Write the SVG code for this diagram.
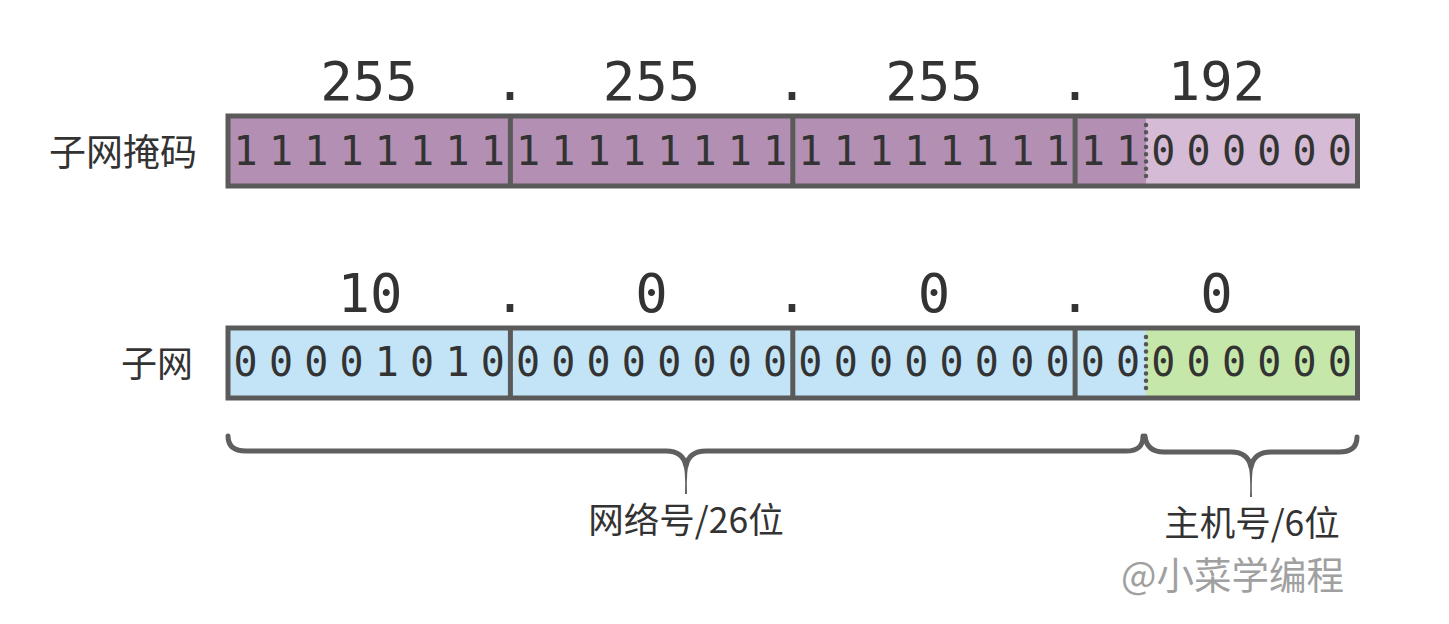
<svg xmlns="http://www.w3.org/2000/svg" width="1449" height="624" viewBox="0 0 1449 624">
<style>
.bits{font-family:"DejaVu Sans Mono",monospace;font-size:40px;fill:#333;text-anchor:middle}
.num{font-family:"DejaVu Sans Mono",monospace;font-size:54px;fill:#333;text-anchor:middle}
.lbl{font-family:"Noto Sans CJK SC","Noto Sans",sans-serif;fill:#333}
.frame{fill:none;stroke:#5a5a5a;stroke-width:5}
.div{stroke:#5a5a5a;stroke-width:5}
.dots{stroke:#555;stroke-width:4.5;stroke-dasharray:0 7.3;stroke-linecap:round}
.brace{fill:none;stroke:#5f5f5f;stroke-width:5;stroke-linecap:round}
.tip{fill:#5f5f5f}
</style>
<rect width="1449" height="624" fill="#fff"/>
<g id="mask-row">
  <text class="lbl" x="197" y="166" font-size="37" text-anchor="end">子网掩码</text>
  <text class="num" y="100"><tspan x="369">255</tspan><tspan x="510">.</tspan><tspan x="651.5">255</tspan><tspan x="792">.</tspan><tspan x="934">255</tspan><tspan x="1075">.</tspan><tspan x="1216.5">192</tspan></text>
  <rect x="228" y="116" width="918" height="70" fill="#b38fb3"/>
  <rect x="1146" y="116" width="211.5" height="70" fill="#d5bbd5"/>
  <line class="div" x1="510.4" y1="116" x2="510.4" y2="186"/>
  <line class="div" x1="792.8" y1="116" x2="792.8" y2="186"/>
  <line class="div" x1="1075.1" y1="116" x2="1075.1" y2="186"/>
  <line class="dots" x1="1146" y1="125" x2="1146" y2="182"/>
  <rect class="frame" x="228" y="116" width="1129.5" height="70"/>
  <text class="bits" y="165" x="245.65 280.95 316.24 351.54 386.84 422.13 457.43 492.73 528.02 563.32 598.62 633.92 669.21 704.51 739.81 775.10 810.40 845.70 880.99 916.29 951.59 986.89 1022.18 1057.48 1092.78 1128.07 1163.37 1198.67 1233.96 1269.26 1304.56 1339.86">11111111111111111111111111000000</text>
</g>
<g id="subnet-row">
  <text class="lbl" x="193" y="377" font-size="36" text-anchor="end">子网</text>
  <text class="num" y="312"><tspan x="370">10</tspan><tspan x="510">.</tspan><tspan x="651.5">0</tspan><tspan x="792">.</tspan><tspan x="934">0</tspan><tspan x="1075">.</tspan><tspan x="1216.5">0</tspan></text>
  <rect x="228" y="328" width="918" height="70" fill="#c3e4f6"/>
  <rect x="1146" y="328" width="211.5" height="70" fill="#c6e7aa"/>
  <line class="div" x1="510.4" y1="328" x2="510.4" y2="398"/>
  <line class="div" x1="792.8" y1="328" x2="792.8" y2="398"/>
  <line class="div" x1="1075.1" y1="328" x2="1075.1" y2="398"/>
  <line class="dots" x1="1146" y1="337" x2="1146" y2="394"/>
  <rect class="frame" x="228" y="328" width="1129.5" height="70"/>
  <text class="bits" y="376" x="245.65 280.95 316.24 351.54 386.84 422.13 457.43 492.73 528.02 563.32 598.62 633.92 669.21 704.51 739.81 775.10 810.40 845.70 880.99 916.29 951.59 986.89 1022.18 1057.48 1092.78 1128.07 1163.37 1198.67 1233.96 1269.26 1304.56 1339.86">00001010000000000000000000000000</text>
</g>
<g id="network-brace">
  <path class="brace" d="M228,436 C228,446 234,451 246,451 L666,451 C678,451 684,456 686,466 M686,466 C688,456 694,451 706,451 L1126,451 C1138,451 1143,446 1143,436"/>
  <path class="tip" d="M682,458 Q686,470 685,494 L687,494 Q686,470 690,458 Z"/>
  <text class="lbl" x="686" y="533" font-size="35.5" text-anchor="middle">网络号/26位</text>
</g>
<g id="host-brace">
  <path class="brace" d="M1145,436 C1146,446 1152,452 1164,452 L1231,452 C1243,452 1249,457 1251,467 M1251,467 C1253,457 1259,452 1271,452 L1339,452 C1351,452 1357,447 1357,437"/>
  <path class="tip" d="M1247,459 Q1251,471 1250,497 L1252,497 Q1251,471 1255,459 Z"/>
  <text class="lbl" x="1252" y="536" font-size="35.5" text-anchor="middle">主机号/6位</text>
</g>
<g id="watermark">
  <text class="lbl" x="1121" y="589" font-size="37.5" style="fill:#a0a0a0">@小菜学编程</text>
</g>
</svg>
